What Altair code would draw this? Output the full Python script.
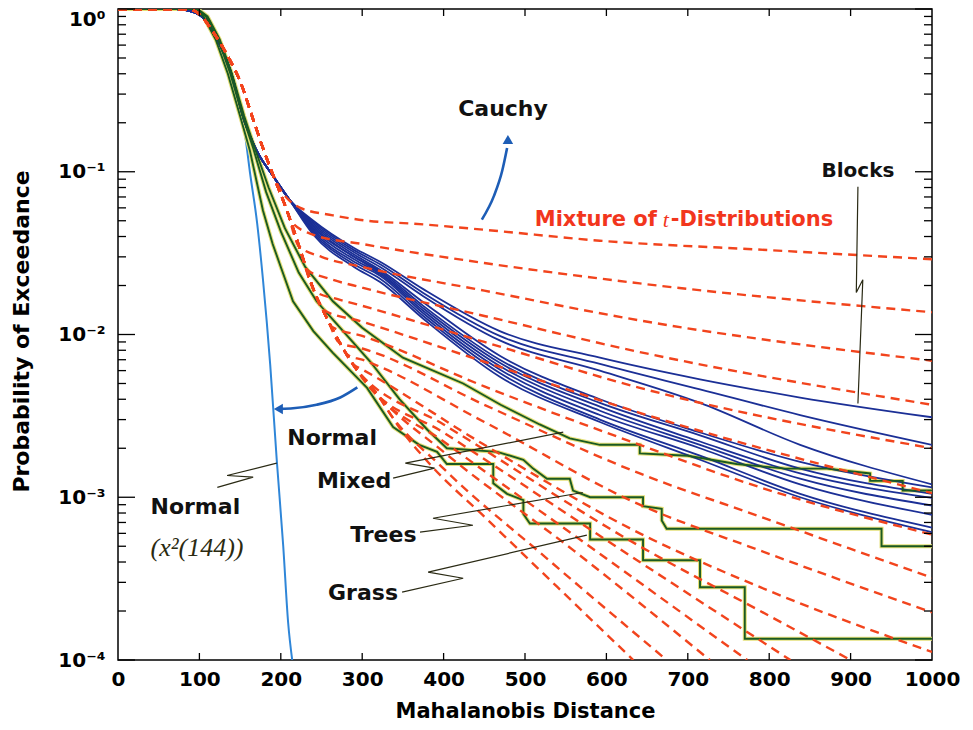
import altair as alt
import pandas as pd

# ---------------- data ----------------
# common steep part of the "mixture of t-distributions" family
RED_ENV_X = [0, 85, 100, 117, 138, 150, 166, 178, 190, 208, 224, 240, 257, 273, 294, 320, 343]
RED_ENV_Y = [1, 1, 0.93, 0.72, 0.48, 0.36, 0.21, 0.14, 0.097, 0.057, 0.033, 0.019, 0.0125, 0.0088, 0.0060, 0.0042, 0.0028]

# tails of each t-distribution curve (first point = branch from the steep part)
RED_TAIL_X = [
    [198, 210, 224, 264, 306, 362, 450, 592, 800, 1000],
    [212, 240, 300, 450, 641, 1000],
    [222, 250, 300, 450, 641, 1000],
    [232, 260, 300, 450, 641, 1000],
    [242, 270, 300, 450, 641, 1000],
    [252, 300, 450, 641, 1000],
    [262, 300, 450, 641, 789, 1000],
    [272, 300, 450, 641, 789, 1000],
    [282, 300, 450, 641, 789, 1000],
    [290, 300, 450, 641, 789, 1000],
    [298, 400, 641, 789, 900],
    [304, 400, 641, 826],
    [310, 400, 600, 773],
    [318, 400, 560, 727],
    [330, 400, 520, 674],
    [343, 383, 450, 540, 633],
]
RED_TAIL_Y = [
    [0.080, 0.067, 0.060, 0.054, 0.050, 0.048, 0.044, 0.0377, 0.033, 0.029],
    [0.050, 0.041, 0.036, 0.0275, 0.0206, 0.0137],
    [0.035, 0.030, 0.026, 0.0186, 0.0122, 0.0069],
    [0.025, 0.022, 0.0194, 0.013, 0.0078, 0.0037],
    [0.0184, 0.0165, 0.015, 0.009, 0.0047, 0.0020],
    [0.0142, 0.012, 0.0068, 0.0033, 0.00106],
    [0.0112, 0.0098, 0.0048, 0.0021, 0.00115, 0.00059],
    [0.0089, 0.0082, 0.0037, 0.0014, 0.00076, 0.00032],
    [0.0075, 0.0070, 0.0029, 0.0009, 0.00047, 0.000196],
    [0.0065, 0.0061, 0.0021, 0.0006, 0.00028, 0.000112],
    [0.0057, 0.0028, 0.0005, 0.0002, 0.0001],
    [0.0051, 0.0025, 0.0004, 0.0001],
    [0.0047, 0.0022, 0.00042, 0.0001],
    [0.0043, 0.0019, 0.00047, 0.0001],
    [0.0035, 0.0015, 0.00045, 0.0001],
    [0.0028, 0.0016, 0.00076, 0.00028, 0.0001],
]

# "Blocks" empirical curves (dark blue)
BLUE_HEAD_X = [0, 72, 92, 108, 122, 138, 156, 172, 190, 210]
BLUE_HEAD_Y = [1, 1, 0.96, 0.85, 0.65, 0.42, 0.20, 0.13, 0.095, 0.068]
BLUE_TAIL_X = [240, 290, 322, 375, 469, 592, 715, 838, 1000]
BLUE_TAIL_Y = [
    [0.050, 0.034, 0.028, 0.019, 0.0105, 0.0072, 0.0053, 0.0041, 0.0031],
    [0.049, 0.033, 0.027, 0.018, 0.0098, 0.0066, 0.0046, 0.0032, 0.0021],
    [0.048, 0.032, 0.026, 0.0172, 0.0092, 0.0060, 0.0038, 0.0021, 0.0012],
    [0.047, 0.031, 0.025, 0.0158, 0.0074, 0.0040, 0.0025, 0.00165, 0.00115],
    [0.046, 0.030, 0.0245, 0.0150, 0.0070, 0.0038, 0.0024, 0.0015, 0.00105],
    [0.045, 0.030, 0.024, 0.0145, 0.0067, 0.0036, 0.0022, 0.0014, 0.00099],
    [0.044, 0.029, 0.0235, 0.0140, 0.0064, 0.0034, 0.0021, 0.0013, 0.00089],
    [0.043, 0.028, 0.023, 0.0135, 0.0061, 0.0032, 0.0020, 0.0012, 0.00078],
    [0.042, 0.027, 0.022, 0.0130, 0.0058, 0.0030, 0.0018, 0.00105, 0.00065],
    [0.041, 0.026, 0.021, 0.0125, 0.0055, 0.0029, 0.0017, 0.0010, 0.00061],
]

# green empirical step curves
MIXED_X = [0, 98, 110, 125, 140, 155, 168, 185, 205, 230, 264, 300, 350, 424, 470, 518, 555, 592, 641, 641,
           700, 760, 820, 871, 924, 924, 964, 964, 1000]
MIXED_Y = [1, 1, 0.9, 0.65, 0.40, 0.22, 0.14, 0.08, 0.045, 0.026, 0.016, 0.011, 0.0072, 0.005, 0.0037, 0.0028,
           0.0023, 0.0021, 0.0021, 0.00186, 0.0018, 0.0016, 0.0015, 0.0015, 0.0014, 0.00126, 0.00126, 0.0011, 0.0011]
TREES_X = [0, 95, 108, 123, 138, 153, 166, 182, 200, 222, 244, 273, 310, 346, 380, 404, 466, 498, 510, 527,
           555, 559, 580, 645, 645, 668, 668, 674, 938, 938, 1000]
TREES_Y = [1, 1, 0.9, 0.65, 0.40, 0.22, 0.14, 0.075, 0.043, 0.024, 0.016, 0.011, 0.0068, 0.004, 0.0026, 0.002,
           0.0019, 0.0017, 0.0015, 0.0013, 0.0013, 0.0011, 0.0010, 0.0010, 0.00088, 0.00085, 0.00072, 0.00064,
           0.00064, 0.0005, 0.0005]
GRASS_X = [0, 92, 105, 120, 135, 150, 162, 178, 190, 200, 215, 240, 264, 306, 338, 370, 392, 404, 461, 461,
           478, 498, 498, 506, 580, 580, 645, 645, 715, 715, 770, 770, 1000]
GRASS_Y = [1, 1, 0.9, 0.65, 0.40, 0.22, 0.135, 0.058, 0.036, 0.026, 0.016, 0.0105, 0.0077, 0.0047, 0.0027,
           0.0021, 0.0019, 0.0016, 0.0016, 0.00122, 0.00105, 0.00096, 0.00079, 0.00069, 0.00069, 0.00055,
           0.00055, 0.00041, 0.00041, 0.00028, 0.00028, 0.000135, 0.000135]

# chi-square(144) normal reference (light blue)
NORMAL_X = [0, 88, 100, 115, 130, 145, 156, 162, 171, 178, 187, 195, 203, 209, 214]
NORMAL_Y = [1, 1, 0.95, 0.78, 0.52, 0.28, 0.17, 0.10, 0.048, 0.022, 0.0065, 0.0017, 0.0005, 0.00017, 0.0001]

X_TICKS = list(range(0, 1001, 100))
Y_MAJOR = [1, 0.1, 0.01, 0.001, 0.0001]
Y_MINOR = [m * 10.0 ** e for e in range(-4, 0) for m in range(2, 10)]

# ---------------- build tables ----------------
red_rows = []
for i, (tx, ty) in enumerate(zip(RED_TAIL_X, RED_TAIL_Y)):
    pts = [(x, y) for x, y in zip(RED_ENV_X, RED_ENV_Y) if x < tx[0]] + list(zip(tx, ty))
    for o, (x, y) in enumerate(pts):
        red_rows.append({"s": f"r{i}", "o": o, "x": x, "y": y})
red_df = pd.DataFrame(red_rows)

blue_rows = []
for i, ty in enumerate(BLUE_TAIL_Y):
    pts = list(zip(BLUE_HEAD_X, BLUE_HEAD_Y)) + list(zip(BLUE_TAIL_X, ty))
    for o, (x, y) in enumerate(pts):
        blue_rows.append({"s": f"b{i}", "o": o, "x": x, "y": y})
blue_df = pd.DataFrame(blue_rows)

green_rows = []
for name, xs_, ys_ in [("Mixed", MIXED_X, MIXED_Y), ("Trees", TREES_X, TREES_Y), ("Grass", GRASS_X, GRASS_Y)]:
    for o, (x, y) in enumerate(zip(xs_, ys_)):
        green_rows.append({"s": name, "o": o, "x": x, "y": y})
green_df = pd.DataFrame(green_rows)

normal_df = pd.DataFrame({"x": NORMAL_X, "y": NORMAL_Y, "o": list(range(len(NORMAL_X)))})

W, H = 814, 651
xs = alt.Scale(domain=[0, 1000], nice=False, zero=False)
ys = alt.Scale(type="log", domain=[0.0001, 1], nice=False)

FONT = "DejaVu Sans"

label_expr = ("datum.value >= 0.5 ? '10⁰' : datum.value >= 0.05 ? '10⁻¹' : "
              "datum.value >= 0.005 ? '10⁻²' : datum.value >= 0.0005 ? '10⁻³' : '10⁻⁴'")

x_axis = alt.Axis(values=X_TICKS, format="d", title="Mahalanobis Distance", labelFont=FONT, labelFontSize=20,
                  labelFontWeight="bold", labelColor="black", labelPadding=9, labelFlush=False,
                  ticks=False, domain=False, grid=False, titleFont=FONT, titleFontSize=21,
                  titleFontWeight="bold", titleColor="black", titleY=51, titleBaseline="middle")
y_axis = alt.Axis(values=Y_MAJOR, title="Probability of Exceedance", labelExpr=label_expr,
                  labelFont=FONT, labelFontSize=20, labelFontWeight="bold", labelColor="black",
                  labelPadding=13, labelFlush=False,
                  labelBaseline={"condition": {"test": "datum.value >= 0.5", "value": "top"}, "value": "middle"},
                  ticks=False, domain=False, grid=False, titleFont=FONT, titleFontSize=22,
                  titleFontWeight="bold", titleColor="black", titleX=-97, titleY=322,
                  titleBaseline="middle", titleAngle=-90)

X = alt.X("x:Q", scale=xs, axis=x_axis)
Y = alt.Y("y:Q", scale=ys, axis=y_axis)

normal = alt.Chart(normal_df).mark_line(color="#2f86d8", strokeWidth=2, interpolate="monotone", clip=True).encode(
    x=X, y=Y, order="o:Q")

red = alt.Chart(red_df).mark_line(color="#f2441d", strokeWidth=2.4, strokeDash=[9, 6],
                                  interpolate="monotone", clip=True).encode(
    x=X, y=Y, detail="s:N", order="o:Q")

blue = alt.Chart(blue_df).mark_line(color="#1b2f96", strokeWidth=1.8, interpolate="monotone", clip=True).encode(
    x=X, y=Y, detail="s:N", order="o:Q")

green_under = alt.Chart(green_df).mark_line(color="#e4df78", strokeWidth=4, clip=True).encode(
    x=X, y=Y, detail="s:N", order="o:Q")
green = alt.Chart(green_df).mark_line(color="#1a5a22", strokeWidth=1.9, clip=True).encode(
    x=X, y=Y, detail="s:N", order="o:Q")

# ---------------- axis ticks (inward) ----------------
def yrule(vals, x0, x1):
    return alt.Chart(pd.DataFrame({"y": vals})).mark_rule(color="black", strokeWidth=1.3).encode(
        y=Y, x=alt.value(x0), x2=alt.value(x1))

def xrule(vals, y0, y1):
    return alt.Chart(pd.DataFrame({"x": vals})).mark_rule(color="black", strokeWidth=1.3).encode(
        x=X, y=alt.value(y0), y2=alt.value(y1))

ticks = [yrule(Y_MAJOR, 0, 17), yrule(Y_MINOR, 0, 8), yrule(Y_MAJOR, W - 17, W), yrule(Y_MINOR, W - 8, W),
         xrule(X_TICKS[1:-1], H, H - 7), xrule(X_TICKS[1:-1], 0, 7)]

# ---------------- annotations ----------------
def txt(df, **kw):
    return alt.Chart(df).mark_text(**kw).encode(x=X, y=Y, text="t:N")

black_labels = pd.DataFrame({
    "t": ["Cauchy", "Normal", "Normal", "Mixed", "Trees", "Grass"],
    "x": [473, 263, 95, 290, 326, 301],
    "y": [0.244, 0.0023, 0.00087, 0.00125, 0.000585, 0.000258],
})
labels_black = txt(black_labels, font=FONT, fontSize=22, fontWeight="bold", color="#111",
                   align="center", baseline="middle")
blocks_label = txt(pd.DataFrame({"t": ["Blocks"], "x": [909], "y": [0.1015]}),
                   font=FONT, fontSize=20, fontWeight="bold", color="#111", align="center", baseline="middle")
chi_label = txt(pd.DataFrame({"t": ["(x²(144))"], "x": [97], "y": [0.000486]}),
                font="Liberation Serif", fontSize=26, fontStyle="italic", color="#2b2a10",
                align="center", baseline="middle")
mix1 = txt(pd.DataFrame({"t": ["Mixture of"], "x": [662], "y": [0.0508]}),
           font=FONT, fontSize=21, fontWeight="bold", color="#f2361d", align="right", baseline="middle")
mix2 = txt(pd.DataFrame({"t": ["t"], "x": [673], "y": [0.0508]}),
           font="Liberation Serif", fontSize=22, fontStyle="italic", color="#f2361d", align="center",
           baseline="middle")
mix3 = txt(pd.DataFrame({"t": ["-Distributions"], "x": [679], "y": [0.0508]}),
           font=FONT, fontSize=21, fontWeight="bold", color="#f2361d", align="left", baseline="middle")

leaders_df = pd.DataFrame({
    "s": ["bl"] * 4 + ["mx"] * 4 + ["tr"] * 4 + ["gr"] * 4 + ["nm"] * 4,
    "o": [0, 1, 2, 3] * 5,
    "x": [909, 907, 915, 909, 338, 389, 353, 547, 371, 436, 387, 571, 349, 424, 381, 576, 122, 166, 134, 195],
    "y": [0.081, 0.0181, 0.0217, 0.00377,
          0.00131, 0.00151, 0.00162, 0.00251,
          0.00061, 0.000673, 0.000743, 0.00107,
          0.000261, 0.000318, 0.000347, 0.000585,
          0.00115, 0.00133, 0.00136, 0.00162],
})
leaders = alt.Chart(leaders_df).mark_line(color="#2a2a14", strokeWidth=1.2).encode(
    x=X, y=Y, detail="s:N", order="o:Q")

arrows_df = pd.DataFrame({
    "s": ["c"] * 4 + ["n"] * 5,
    "o": [0, 1, 2, 3, 0, 1, 2, 3, 4],
    "x": [447, 462, 472, 478, 294, 273, 244, 215, 200],
    "y": [0.0508, 0.0713, 0.1014, 0.14, 0.00473, 0.0041, 0.0037, 0.00352, 0.00349],
})
arrows = alt.Chart(arrows_df).mark_line(color="#1d5db6", strokeWidth=2.6, interpolate="monotone").encode(
    x=X, y=Y, detail="s:N", order="o:Q")
heads_df = pd.DataFrame({"x": [479, 197], "y": [0.158, 0.00349], "shape": ["triangle-up", "triangle-left"]})
heads = alt.Chart(heads_df).mark_point(filled=True, color="#1d5db6", size=110, opacity=1).encode(
    x=X, y=Y, shape=alt.Shape("shape:N", scale=None, legend=None))

chart = alt.layer(
    normal, green_under, blue, green, red, *ticks, leaders, arrows, heads,
    labels_black, blocks_label, chi_label, mix1, mix2, mix3,
).properties(
    width=W, height=H,
    autosize=alt.AutoSizeParams(type="none"),
    padding={"left": 110, "top": 1, "right": 33, "bottom": 62},
    background="white",
).configure_view(stroke="black", strokeWidth=1.5)

chart.save("out.html", embed_options={"renderer": "svg", "actions": False})
